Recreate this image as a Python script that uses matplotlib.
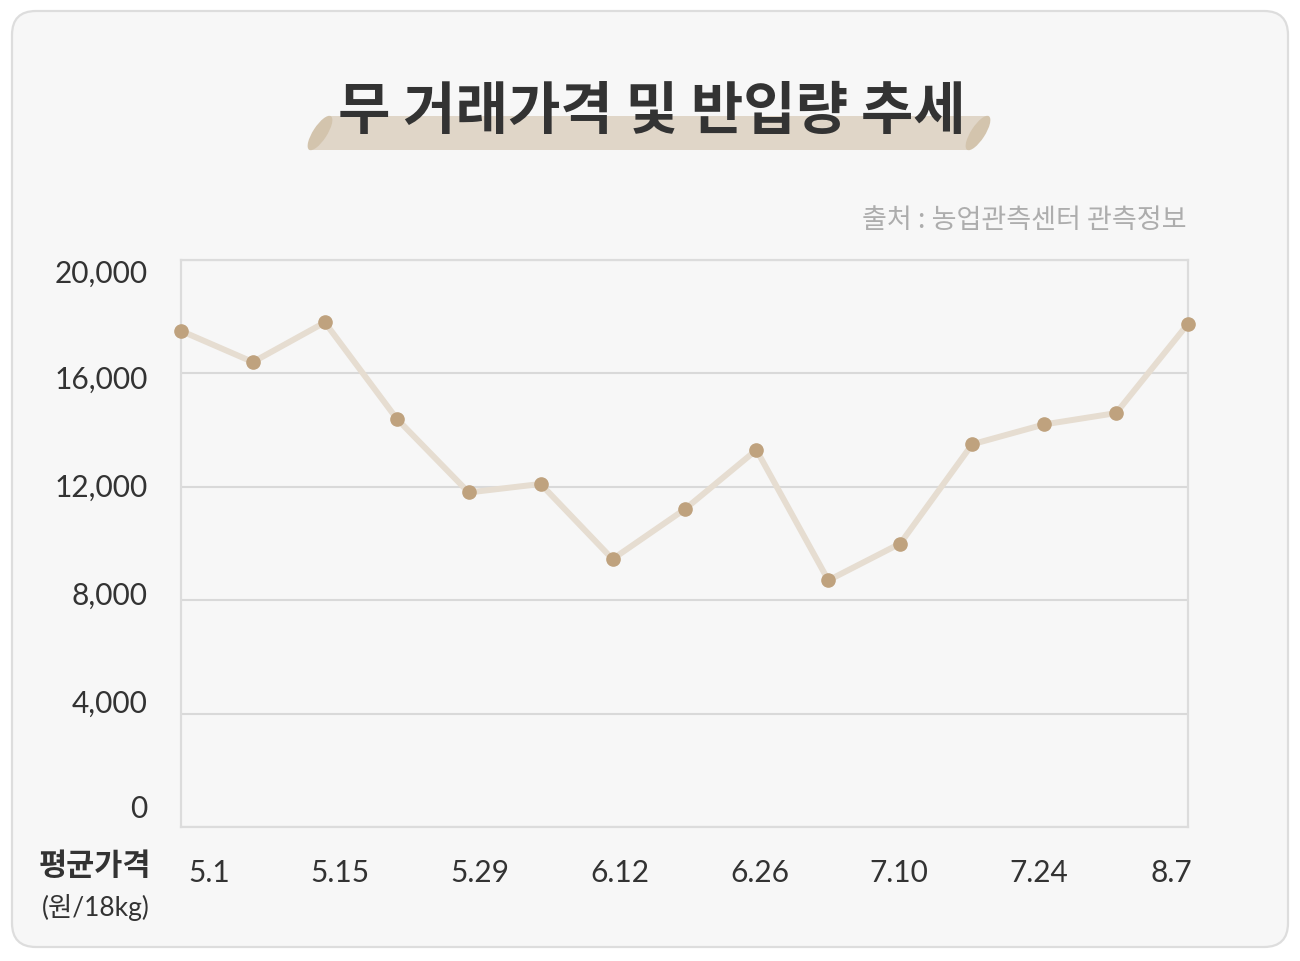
import matplotlib
matplotlib.use("Agg")
import matplotlib.pyplot as plt
from matplotlib.patches import FancyBboxPatch, Polygon, Ellipse
from matplotlib.transforms import ScaledTranslation

plt.rcParams['font.family'] = ['Lato', 'Noto Sans CJK KR', 'DejaVu Sans']

# weekly average price of radish (won / 18kg), 5.1 ~ 8.7
weeks = list(range(15))
price = [17500, 16400, 17800, 14400, 11800, 12100, 9450, 11200,
         13300, 8700, 10000, 13500, 14200, 14600, 17750]
date_ticks = [0, 2, 4, 6, 8, 10, 12, 14]
date_labels = ['5.1', '5.15', '5.29', '6.12', '6.26', '7.10', '7.24', '8.7']
y_ticks = [0, 4000, 8000, 12000, 16000, 20000]

title = '무 거래가격 및 반입량 추세'
source = '출처 : 농업관측센터 관측정보'

TXT = '#333333'

fig = plt.figure(figsize=(13, 9.62), dpi=100)
fig.patch.set_facecolor('white')

# background layer in pixel coordinates
bg = fig.add_axes([0, 0, 1, 1], zorder=0)
bg.set_xlim(0, 1300)
bg.set_ylim(962, 0)
bg.axis('off')

card = FancyBboxPatch((12, 12), 1276, 936, boxstyle='round,pad=0,rounding_size=24',
                      facecolor='#f7f7f7', edgecolor='#dddddd', lw=1.6)
bg.add_patch(card)

# brush stroke under the title
bg.add_patch(Polygon([(330, 117), (988, 117), (968, 151), (310, 151)],
                     closed=True, facecolor='#e0d6c8', edgecolor='none', zorder=2))
bg.add_patch(Ellipse((320, 134), 40, 14, angle=-57, facecolor='#d3c4ad',
                     edgecolor='none', zorder=2))
bg.add_patch(Ellipse((978, 134), 40, 14, angle=-57, facecolor='#d3c4ad',
                     edgecolor='none', zorder=2))
bg.text(652, 112, title, ha='center', va='center', fontsize=41,
        fontweight='bold', color=TXT, family=['Noto Sans CJK KR'], zorder=3)

bg.text(1187, 221, source, ha='right', va='center', fontsize=19.5,
        color='#adadad', family=['Noto Sans CJK KR'])

bg.text(95, 866, '평균가격', ha='center', va='center', fontsize=22,
        fontweight='bold', color=TXT, family=['Noto Sans CJK KR'])
bg.text(96, 908, '(원/18kg)', ha='center', va='center', fontsize=19,
        color=TXT, family=['Lato', 'Noto Sans CJK KR'])

# chart
ax = fig.add_axes([181 / 1300, 1 - 828 / 962, (1188 - 181) / 1300, (828 - 261) / 962],
                  zorder=1)
ax.patch.set_alpha(0)
ax.set_xlim(0, 14)
ax.set_ylim(0, 20000)

ax.plot(weeks, price, color='#e6ddd1', lw=4.3, zorder=2, clip_on=False)
ax.plot(weeks, price, 'o', color='#bfa27e', ms=9.5, zorder=3, clip_on=False)

ax.set_yticks(y_ticks)
ax.set_yticklabels([f'{v:,}' for v in y_ticks])
ax.set_xticks(date_ticks)
ax.set_xticklabels(date_labels)
ax.tick_params(length=0, labelsize=21.5, labelcolor=TXT)
ax.tick_params(axis='y', pad=24)
ax.tick_params(axis='x', pad=22)

ax.grid(axis='y', color='#d9d9d9', lw=1.5)
ax.set_axisbelow(True)
for s in ax.spines.values():
    s.set_color('#dcdcdc')
    s.set_linewidth(1.6)

# labels in the original are spaced a little differently from the grid
y_off = [21, 13, 8, 3, -3, -10]
for lab, dy in zip(ax.get_yticklabels(), y_off):
    lab.set_transform(lab.get_transform() + ScaledTranslation(0, dy / 100, fig.dpi_scale_trans))
x_off = [28, 15, 11, 7, 3, -1, -5, -17]
for lab, dx in zip(ax.get_xticklabels(), x_off):
    lab.set_transform(lab.get_transform() + ScaledTranslation(dx / 100, 0, fig.dpi_scale_trans))

fig.savefig('out.png', dpi=100, facecolor='white')
